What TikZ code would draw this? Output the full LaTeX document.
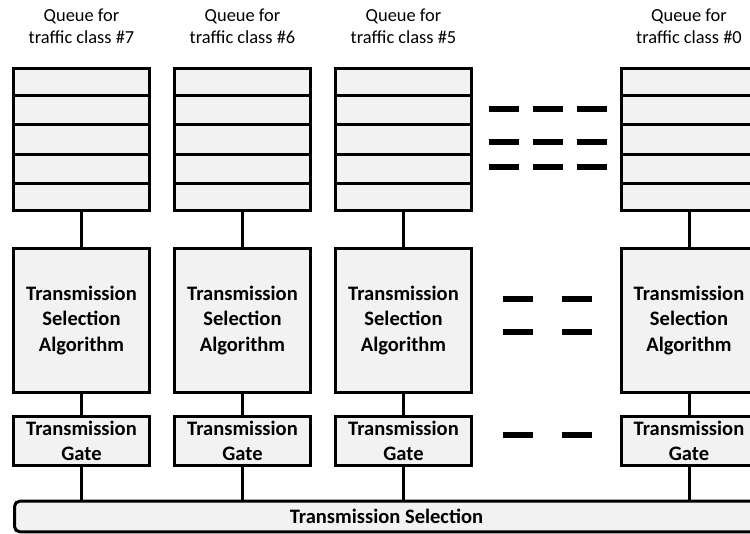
\documentclass[tikz,border=0pt]{standalone}
\usepackage{fontspec}
\setmainfont{Carlito}
\usetikzlibrary{calc}
\definecolor{boxgray}{HTML}{F2F2F2}
\begin{document}
\begin{tikzpicture}[x=0.75pt,y=-0.75pt,
  box/.style={draw=black, fill=boxgray, line width=2.25pt, inner sep=0pt, minimum width=101.5pt, align=center, font=\fontsize{15.4}{19.2}\selectfont\bfseries},
  queue/.style={box, minimum height=107pt},
  tsa/.style={box, minimum height=107.5pt},
  gate/.style={box, minimum height=37pt},
  bar/.style={box, rounded corners=4pt, minimum width=558pt, minimum height=23pt},
  lbl/.style={align=center, inner sep=0pt, font=\fontsize{13.8}{16.5}\selectfont},
  conn/.style={line width=2.25pt},
  divider/.style={line width=2.25pt},
  gapdash/.style={line width=4pt}]
\useasboundingbox (0,0) rectangle (750,534);
\begin{scope}
\clip (0,0) rectangle (750,534);
% bottom bar
\node[bar] (bar) at (386.5,516.5) {Transmission Selection};
% columns
\foreach \name/\cx/\cls in {c7/81.5/7, c6/242.5/6, c5/403.5/5, c0/689/0} {
  \node[lbl] (\name lbl) at (\cx,26) {Queue for\\traffic class \#\cls};
  \node[queue] (\name q) at (\cx,139.5) {};
  \foreach \k in {1,2,3,4}
    \draw[divider] ($(\name q.north west)!\k/5!(\name q.south west)$) -- ($(\name q.north east)!\k/5!(\name q.south east)$);
  \node[tsa] (\name t) at (\cx,320.5) {Transmission\\Selection\\Algorithm};
  \node[gate] (\name g) at (\cx,441) {Transmission\\Gate};
  \draw[conn] (\name q.south) -- (\name t.north);
  \draw[conn] (\name t.south) -- (\name g.north);
  \draw[conn] (\name g.south) -- (\name g.south |- bar.north);
}
% gap dashes
\foreach \y in {109,142,167}
  \foreach \x in {489,533,577}
    \draw[gapdash] (\x,\y) -- ++(30,0);
\foreach \y in {299,332,435}
  \foreach \x in {503,562}
    \draw[gapdash] (\x,\y) -- ++(30,0);
\end{scope}
\end{tikzpicture}
\end{document}
